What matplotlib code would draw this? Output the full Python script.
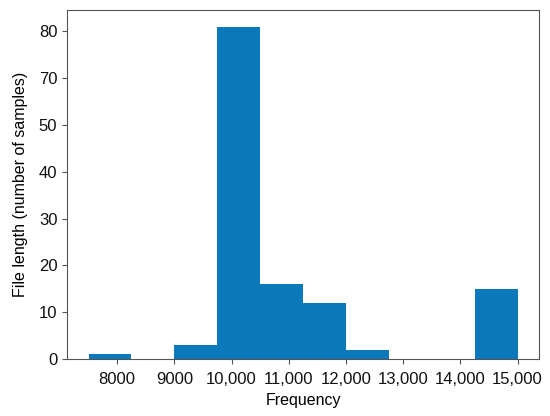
import matplotlib
matplotlib.use("Agg")
import matplotlib.pyplot as plt

# histogram bins (frequency edges) and counts per bin
bin_edges = [7500, 8250, 9000, 9750, 10500, 11250, 12000, 12750, 13500, 14250, 15000]
counts = [1, 0, 3, 71, 16, 12, 2, 0, 0, 15]

x_ticks = [8000, 9000, 10000, 11000, 12000, 13000, 14000, 15000]
x_labels = ["8000", "9000", "10,000", "11,000", "12,000", "13,000", "14,000", "15,000"]
y_ticks = [0, 10, 20, 30, 40, 50, 60, 70]
y_labels = ["0", "10", "20", "30", "40", "50", "70", "80"]

plt.rcParams["font.family"] = ["Liberation Sans", "DejaVu Sans"]
plt.rcParams["font.size"] = 11.5

fig = plt.figure(figsize=(5.5, 4.16), dpi=100)
ax = fig.add_axes([0.122, 0.137, 0.858, 0.839])

ax.hist(bin_edges[:-1], bins=bin_edges, weights=counts, color="#0a78b9")

ax.set_xticks(x_ticks)
ax.set_xticklabels(x_labels, fontsize=12)
ax.set_yticks(y_ticks)
ax.set_yticklabels(y_labels, fontsize=12)

for s in ax.spines.values():
    s.set_color("#555555")
ax.tick_params(colors="#555555", labelcolor="#111111")
ax.tick_params(axis="x", pad=6)

ax.set_xlabel("Frequency", labelpad=4)
ax.set_ylabel("File length (number of samples)", labelpad=8)

fig.savefig("out.png", dpi=100)
